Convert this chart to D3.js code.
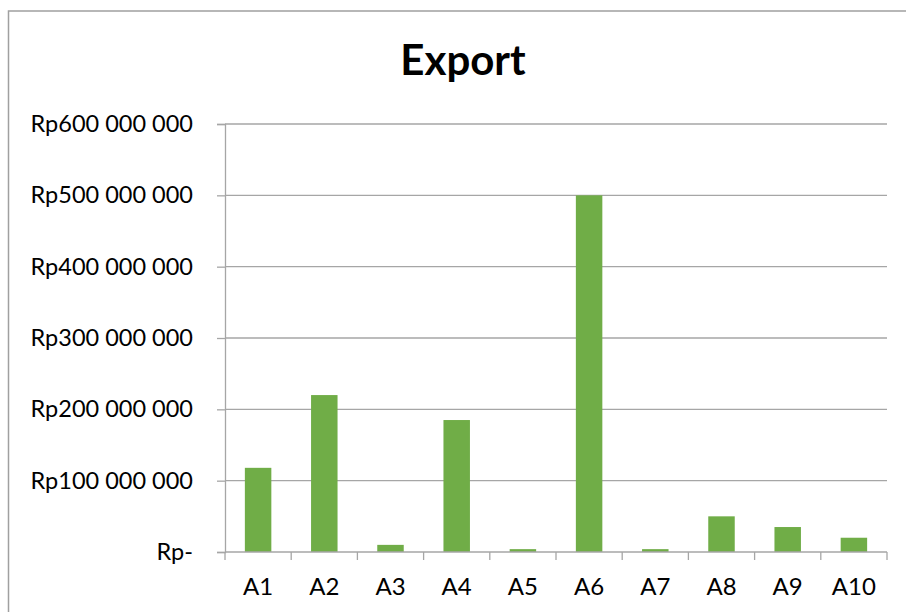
<!DOCTYPE html>
<html>
<head>
<meta charset="utf-8">
<script src="https://cdn.jsdelivr.net/npm/d3@7"></script>
<style>
  body { margin: 0; background: #fff; }
  text { font-family: Lato, "Noto Sans", sans-serif; fill: #000; }
</style>
</head>
<body>
<div id="chart"></div>
<script>
// data
var categories = ["A1", "A2", "A3", "A4", "A5", "A6", "A7", "A8", "A9", "A10"];
var exportValues = [118000000, 220000000, 10000000, 185000000, 4000000, 500000000, 4000000, 50000000, 35000000, 20000000];
var yTicks = [0, 100000000, 200000000, 300000000, 400000000, 500000000, 600000000];

var svgWidth = 906, svgHeight = 612;
var margin = {top: 124, bottom: 60, right: 19, left: 225};
var width = svgWidth - margin.left - margin.right;
var height = svgHeight - margin.top - margin.bottom;

var svg = d3.select("#chart")
  .append("svg")
  .attr("width", svgWidth)
  .attr("height", svgHeight);

// chart border
svg.append("rect")
  .attr("x", 8.5)
  .attr("y", 11)
  .attr("width", 920)
  .attr("height", 640)
  .attr("fill", "none")
  .attr("stroke", "#a0a0a0")
  .attr("stroke-width", 1.5);

// title
svg.append("text")
  .attr("x", 463)
  .attr("y", 75)
  .attr("text-anchor", "middle")
  .style("font-size", "42px")
  .style("font-weight", "bold")
  .text("Export");

var chartGroup = svg.append("g")
  .attr("transform", `translate(${margin.left}, ${margin.top})`);

var xScale = d3.scaleBand()
  .domain(categories)
  .range([0, width])
  .paddingInner(0.6)
  .paddingOuter(0.3);

var yScale = d3.scaleLinear()
  .domain([0, 600000000])
  .range([height, 0]);

var fmt = function(v) {
  if (v === 0) return "Rp-";
  return "Rp" + d3.format(",")(v).replace(/,/g, " ");
};

// gridlines
chartGroup.append("g")
  .selectAll("line")
  .data(yTicks.slice(1))
  .enter()
  .append("line")
  .attr("x1", 0)
  .attr("x2", width)
  .attr("y1", d => yScale(d))
  .attr("y2", d => yScale(d))
  .attr("stroke", "#a6a6a6")
  .attr("stroke-width", 1.3);

// y axis
var leftAxis = d3.axisLeft(yScale)
  .tickValues(yTicks)
  .tickSize(8)
  .tickPadding(24)
  .tickFormat(fmt);

var yAxis = chartGroup.append("g").call(leftAxis);
yAxis.select(".domain").attr("stroke", "#a6a6a6").attr("stroke-width", 1.3);
yAxis.selectAll(".tick line").attr("stroke", "#a6a6a6").attr("stroke-width", 1.3);
yAxis.selectAll(".tick text")
  .style("font-size", "23.5px")
  .style("font-family", "Lato, 'Noto Sans', sans-serif")
  .attr("fill", "#000");

// bars
chartGroup.selectAll(".bar")
  .data(exportValues)
  .enter()
  .append("rect")
  .attr("class", "bar")
  .attr("x", (d, i) => xScale(categories[i]))
  .attr("y", d => yScale(d))
  .attr("width", xScale.bandwidth())
  .attr("height", d => height - yScale(d))
  .attr("fill", "#70ad47");

// x axis with ticks at category boundaries
var step = xScale.step();
var boundaries = d3.range(categories.length + 1).map(i => i * step);
var xAxis = chartGroup.append("g").attr("transform", `translate(0, ${height})`);
xAxis.append("line")
  .attr("x1", 0).attr("x2", width)
  .attr("stroke", "#a6a6a6").attr("stroke-width", 1.3);
xAxis.selectAll(".btick")
  .data(boundaries)
  .enter()
  .append("line")
  .attr("class", "btick")
  .attr("x1", d => d).attr("x2", d => d)
  .attr("y1", 0).attr("y2", 8)
  .attr("stroke", "#a6a6a6").attr("stroke-width", 1.3);
xAxis.selectAll(".xlabel")
  .data(categories)
  .enter()
  .append("text")
  .attr("class", "xlabel")
  .attr("x", d => xScale(d) + xScale.bandwidth() / 2)
  .attr("y", 43)
  .attr("text-anchor", "middle")
  .style("font-size", "24px")
  .text(d => d);
</script>
</body>
</html>
